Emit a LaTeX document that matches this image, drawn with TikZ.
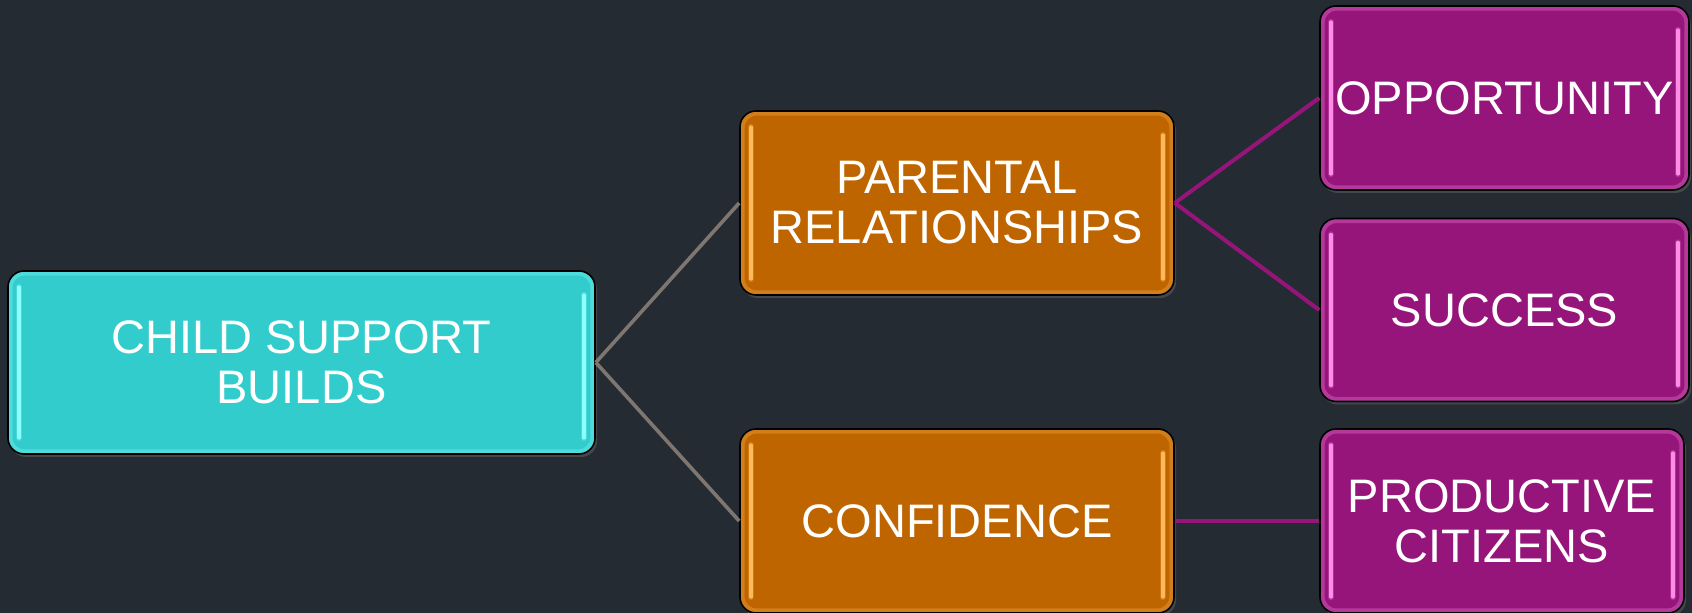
\documentclass[tikz,border=0pt]{standalone}
\usepackage{fontspec}
\setmainfont{Liberation Sans}
\usetikzlibrary{shadows}
\definecolor{bgc}{RGB}{37,43,51}
\definecolor{teal1}{RGB}{51,204,204}
\definecolor{teal2}{RGB}{140,255,255}
\definecolor{orng1}{RGB}{191,101,0}
\definecolor{orng2}{RGB}{255,185,90}
\definecolor{purp1}{RGB}{150,21,123}
\definecolor{purp2}{RGB}{255,140,230}
\definecolor{grayline}{RGB}{128,118,112}
\begin{document}
\begin{tikzpicture}[x=0.5pt,y=-0.5pt,
  box/.style={rounded corners=8pt, draw=black, line width=0.8pt, text=white,
    align=center, inner sep=0pt,
    font=\fontsize{23.5pt}{25pt}\selectfont,
    drop shadow={opacity=0.35, shadow xshift=1pt, shadow yshift=-1.5pt},
    path picture={
      \draw[#1, line width=2.2pt, opacity=0.3, rounded corners=7pt]
        ([xshift=1.2pt,yshift=-1.2pt]path picture bounding box.north west) rectangle
        ([xshift=-1.2pt,yshift=1.2pt]path picture bounding box.south east);
      \foreach \lw/\op in {3.2pt/0.25, 1.6pt/1} {
        \draw[#1, line width=\lw, opacity=\op, line cap=round]
          ([xshift=5.5pt,yshift=-8pt]path picture bounding box.north west) --
          ([xshift=5.5pt,yshift=8pt]path picture bounding box.south west);
        \draw[#1, line width=\lw, opacity=\op, line cap=round]
          ([xshift=-5.5pt,yshift=-12pt]path picture bounding box.north east) --
          ([xshift=-5.5pt,yshift=8pt]path picture bounding box.south east);
      }
    }},
  rootbox/.style={box=teal2, fill=teal1},
  midbox/.style={box=orng2, fill=orng1},
  leafbox/.style={box=purp2, fill=purp1},
  grayconn/.style={draw=grayline, line width=1.8pt},
  purpconn/.style={draw=purp1, line width=2pt}
]
\fill[bgc] (0,0) rectangle (1692,613);
\useasboundingbox (0,0) rectangle (1692,613);

\node[rootbox, minimum width=293.5pt, minimum height=91.5pt] (root) at (301.5,362.5) {CHILD SUPPORT\\BUILDS};
\node[midbox, minimum width=217pt, minimum height=92pt] (par) at (957,203) {PARENTAL\\RELATIONSHIPS};
\node[midbox, minimum width=217pt, minimum height=92pt] (conf) at (957,521) {CONFIDENCE};
\node[leafbox, minimum width=184.5pt, minimum height=92pt] (opp) at (1504.5,98) {OPPORTUNITY};
\node[leafbox, minimum width=184.5pt, minimum height=91.5pt] (succ) at (1504.5,310) {SUCCESS};
\node[leafbox, minimum width=182pt, minimum height=92pt] (prod) at (1502,521) {PRODUCTIVE\\CITIZENS};

\draw[grayconn] (root.east) -- (par.west);
\draw[grayconn] (root.east) -- (conf.west);
\draw[purpconn] (par.east) -- (opp.west);
\draw[purpconn] (par.east) -- (succ.west);
\draw[purpconn] (conf.east) -- (prod.west);
\end{tikzpicture}
\end{document}
